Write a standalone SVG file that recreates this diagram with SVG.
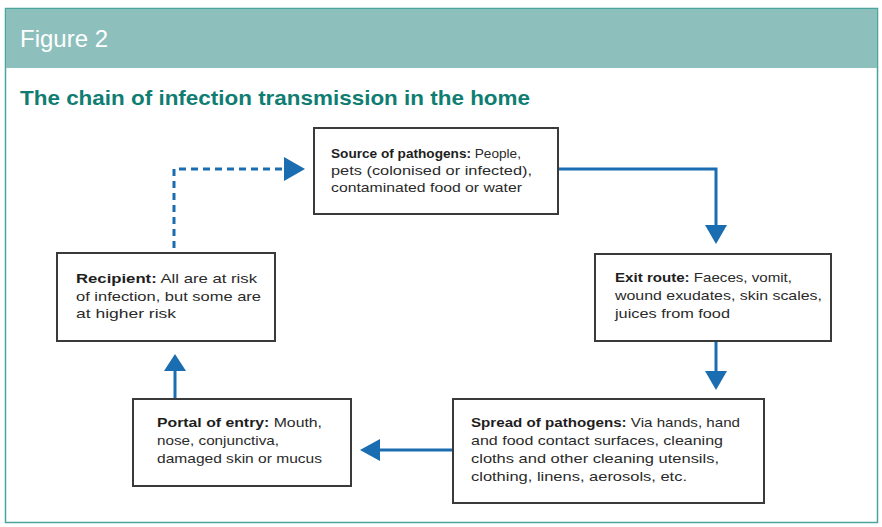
<svg xmlns="http://www.w3.org/2000/svg" width="882" height="527" viewBox="0 0 882 527">
<style>
.box{fill:#fff;stroke:#3a3a3a;stroke-width:2}
.t{font-family:"Liberation Sans",Arial,sans-serif;font-size:13.5px;fill:#2a2a2a}
.b{font-weight:bold;fill:#1e1e1e}
.c{stroke:#1a6db0;stroke-width:3;fill:none}
.d{stroke:#1a6db0;stroke-width:3;fill:none;stroke-dasharray:7 5}
.ah{fill:#1a6db0}
</style>
<rect x="0" y="0" width="882" height="527" fill="#fff"/>
<rect x="5.5" y="8.5" width="872" height="514" fill="#fff" stroke="#4aa59c" stroke-width="1.5"/>
<rect x="6" y="9" width="871" height="59" fill="#8dc0bd"/>
<text x="20" y="47" font-family="Liberation Sans, Arial, sans-serif" font-size="24" fill="#fff" textLength="88" lengthAdjust="spacingAndGlyphs">Figure 2</text>
<text x="20" y="105" font-family="Liberation Sans, Arial, sans-serif" font-size="21" font-weight="bold" fill="#0f7d72" textLength="510" lengthAdjust="spacingAndGlyphs">The chain of infection transmission in the home</text>

<g id="connectors">
<polyline class="d" points="174,248 174,169 286,169"/>
<polygon class="ah" points="284,157 305,169 284,181"/>
<polyline class="c" points="558,169 716,169 716,227"/>
<polygon class="ah" points="705,225 727,225 716,244"/>
<line class="c" x1="716" y1="341" x2="716" y2="373"/>
<polygon class="ah" points="705,371 727,371 716,390"/>
<line class="c" x1="453" y1="450" x2="378" y2="450"/>
<polygon class="ah" points="380,439 380,461 360,450"/>
<line class="c" x1="175" y1="399" x2="175" y2="369"/>
<polygon class="ah" points="164,371 186,371 175,354"/>
</g>

<g id="source">
<rect class="box" x="314" y="128" width="244" height="86"/>
<text class="t" x="331" y="158" textLength="190" lengthAdjust="spacingAndGlyphs"><tspan class="b">Source of pathogens:</tspan> People,</text>
<text class="t" x="331" y="175" textLength="201" lengthAdjust="spacingAndGlyphs">pets (colonised or infected),</text>
<text class="t" x="331" y="192" textLength="191" lengthAdjust="spacingAndGlyphs">contaminated food or water</text>
</g>

<g id="exit">
<rect class="box" x="595" y="254" width="236" height="87"/>
<text class="t" x="615" y="282" textLength="177" lengthAdjust="spacingAndGlyphs"><tspan class="b">Exit route:</tspan> Faeces, vomit,</text>
<text class="t" x="615" y="300" textLength="207" lengthAdjust="spacingAndGlyphs">wound exudates, skin scales,</text>
<text class="t" x="615" y="318" textLength="115" lengthAdjust="spacingAndGlyphs">juices from food</text>
</g>

<g id="spread">
<rect class="box" x="453" y="399" width="311" height="104"/>
<text class="t" x="471" y="427" textLength="269" lengthAdjust="spacingAndGlyphs"><tspan class="b">Spread of pathogens:</tspan> Via hands, hand</text>
<text class="t" x="471" y="445" textLength="252" lengthAdjust="spacingAndGlyphs">and food contact surfaces, cleaning</text>
<text class="t" x="471" y="463" textLength="248" lengthAdjust="spacingAndGlyphs">cloths and other cleaning utensils,</text>
<text class="t" x="471" y="481" textLength="216" lengthAdjust="spacingAndGlyphs">clothing, linens, aerosols, etc.</text>
</g>

<g id="portal">
<rect class="box" x="133" y="399" width="218" height="87"/>
<text class="t" x="157" y="427" textLength="165" lengthAdjust="spacingAndGlyphs"><tspan class="b">Portal of entry:</tspan> Mouth,</text>
<text class="t" x="157" y="445" textLength="122" lengthAdjust="spacingAndGlyphs">nose, conjunctiva,</text>
<text class="t" x="157" y="463" textLength="165" lengthAdjust="spacingAndGlyphs">damaged skin or mucus</text>
</g>

<g id="recipient">
<rect class="box" x="57" y="253" width="218" height="88"/>
<text class="t" x="76" y="283" textLength="181" lengthAdjust="spacingAndGlyphs"><tspan class="b">Recipient:</tspan> All are at risk</text>
<text class="t" x="76" y="301" textLength="185" lengthAdjust="spacingAndGlyphs">of infection, but some are</text>
<text class="t" x="76" y="318" textLength="100" lengthAdjust="spacingAndGlyphs">at higher risk</text>
</g>
</svg>
